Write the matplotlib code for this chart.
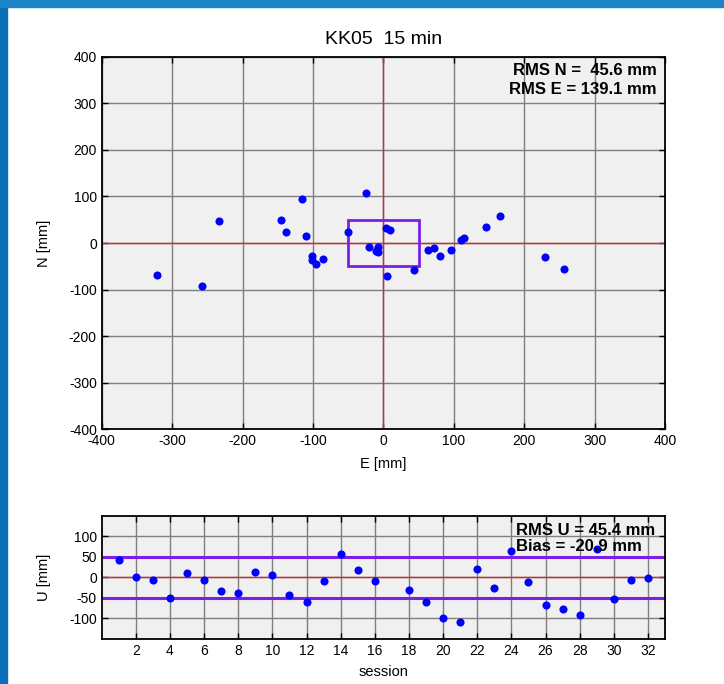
import numpy as np
import matplotlib
matplotlib.use('Agg')
import matplotlib.pyplot as plt
from matplotlib.patches import Rectangle

# horizontal offsets (mm) per session
east = [-322, -257, -234, -145, -138, -116, -110, -101, -101, -96, -86,
        -50, -24, -20, -11, -7, -8, 4, 10, 5, 44, 64, 72, 81, 96, 110,
        115, 146, 166, 230, 256]
north = [-69, -93, 47, 49, 23, 94, 15, -27, -36, -45, -35,
         23, 107, -9, -16, -9, -19, 33, 28, -71, -58, -14, -11, -27, -14, 7,
         10, 34, 58, -29, -55]

sessions = [1, 2, 3, 4, 5, 6, 7, 8, 9, 10, 11, 12, 13, 14, 15, 16,
            18, 19, 20, 21, 22, 23, 24, 25, 26, 27, 28, 29, 30, 31, 32]
up = [41, 0, -6, -50, 10, -6, -34, -38, 12, 6, -42, -61, -9, 56, 18, -9,
      -30, -61, -99, -108, 21, -26, 64, -12, -67, -76, -91, 70, -53, -6, -2]

title = 'KK05  15 min'
rms_ne = 'RMS N =  45.6 mm\nRMS E = 139.1 mm'
rms_u = 'RMS U = 45.4 mm\nBias = -20.9 mm'

plt.rcParams['font.family'] = ['Liberation Sans', 'DejaVu Sans']
plt.rcParams['font.size'] = 10
plt.rcParams['axes.unicode_minus'] = False

purple = '#7b1fe6'
red = '#e02626'
grid_c = '#7f7f7f'
bg = '#f0f0f0'

fig = plt.figure(figsize=(7.24, 6.84), dpi=100)

# slide decoration: blue strips on top and left
fig.patches.append(Rectangle((0, 0), 0.0097, 1, transform=fig.transFigure,
                             color='#0a6fb8', zorder=0))
fig.patches.append(Rectangle((0, 0.99), 1, 0.01, transform=fig.transFigure,
                             color='#1a86c8', zorder=0))


def style(ax):
    ax.set_facecolor(bg)
    ax.grid(True, color=grid_c, linewidth=1)
    ax.set_axisbelow(True)
    ax.tick_params(direction='in', top=True, right=True, length=4, width=1,
                   labelsize=10)
    for s in ax.spines.values():
        s.set_linewidth(1.3)


ax1 = fig.add_axes([0.1405, 0.3721, 0.778, 0.545])
style(ax1)
ax1.axhline(0, color=red, lw=1, zorder=2)
ax1.axvline(0, color=red, lw=1, zorder=2)
ax1.add_patch(Rectangle((-50, -50), 100, 100, fill=False, edgecolor=purple,
                        lw=2, zorder=3))
ax1.scatter(east, north, s=34, color='#0000ff', zorder=4, linewidths=0)
ax1.set_xlim(-400, 400)
ax1.set_ylim(-400, 400)
ax1.set_xticks(np.arange(-400, 401, 100))
ax1.set_yticks(np.arange(-400, 401, 100))
ax1.set_xlabel('E [mm]', fontsize=10.5)
ax1.set_ylabel('N [mm]', fontsize=10.5)
ax1.xaxis.set_label_coords(0.5, -0.074)
ax1.yaxis.set_label_coords(-0.09, 0.5)
ax1.set_title(title, fontsize=14, pad=9,
              family=['Liberation Sans Narrow', 'DejaVu Sans Condensed',
                      'Liberation Sans'])
ax1.text(0.985, 0.982, rms_ne, transform=ax1.transAxes, ha='right', va='top',
         fontsize=12, fontweight='bold', linespacing=1.3, zorder=5)

ax2 = fig.add_axes([0.1405, 0.0658, 0.778, 0.1803])
style(ax2)
ax2.axhline(0, color=red, lw=1, zorder=2)
ax2.axhline(50, color=purple, lw=2.2, zorder=2)
ax2.axhline(-50, color=purple, lw=2.2, zorder=2)
ax2.scatter(sessions, up, s=34, color='#0000ff', zorder=4, linewidths=0)
ax2.set_xlim(0, 33)
ax2.set_ylim(-150, 150)
ax2.set_xticks(np.arange(2, 33, 2))
ax2.set_yticks([-100, -50, 0, 50, 100])
ax2.set_xlabel('session', fontsize=10.5)
ax2.set_ylabel('U [mm]', fontsize=10.5)
ax2.xaxis.set_label_coords(0.5, -0.21)
ax2.yaxis.set_label_coords(-0.09, 0.5)
ax2.text(0.735, 0.94, rms_u, transform=ax2.transAxes, ha='left', va='top',
         fontsize=12, fontweight='bold', linespacing=1.1, zorder=5)

fig.savefig('out.png', dpi=100)
